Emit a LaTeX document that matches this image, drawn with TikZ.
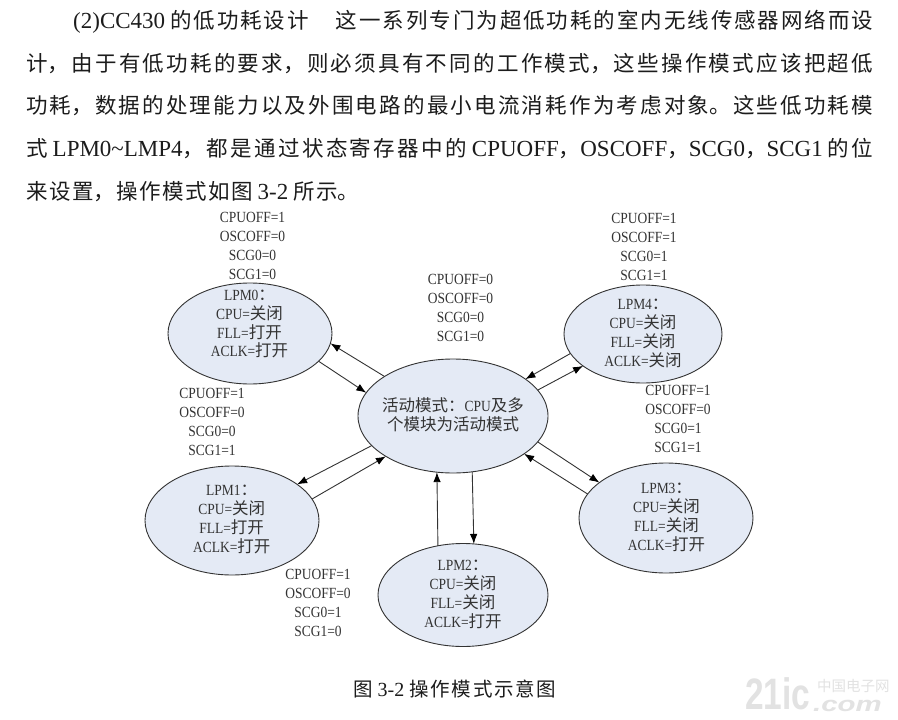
\documentclass[tikz,border=0pt]{standalone}
\usepackage{fontspec}
\usetikzlibrary{arrows.meta,shapes.geometric}
\setmainfont{Noto Sans CJK SC}
\newfontfamily\latf{Liberation Serif}
\newfontfamily\labf[FakeStretch=0.87]{Liberation Serif}
\newfontfamily\cjf{Noto Sans CJK SC}
\newfontfamily\wma[FakeStretch=0.76]{Liberation Sans}
\newfontfamily\wmb[FakeStretch=1.4]{Liberation Sans}
\definecolor{inkc}{HTML}{333333}
\definecolor{bodyc}{HTML}{1C1C1C}
\definecolor{fillc}{HTML}{E4EAF5}
\definecolor{wmc}{HTML}{E2E2E2}
\newcommand{\lat}[1]{{\latf\fontsize{23}{23}\selectfont #1}}
\newcommand{\capl}[1]{{\latf\fontsize{20}{20}\selectfont #1}}
\newcommand{\cj}[1]{{\cjf\fontsize{16.5}{18.9}\selectfont #1}}
\newcommand{\sep}{\hspace{5pt}}
\newcommand{\bodyline}[2]{\parbox[b]{#1pt}{\XeTeXlinebreaklocale "zh"\XeTeXlinebreakskip=0pt plus 6pt\relax\parindent=0pt\parfillskip=0pt\tolerance=9999\hbadness=10000\relax #2\par}}
\tikzset{
  state/.style={ellipse,draw=inkc,fill=fillc,line width=0.9pt,inner sep=0pt,outer sep=0pt},
  inner/.style={inkc,align=center,inner sep=0pt,font=\labf\fontsize{15.5}{18.9}\selectfont},
  flags/.style={inner},
  body/.style={bodyc,anchor=base west,inner sep=0pt,font=\fontsize{21.5}{24}\selectfont},
  conn/.style={draw=inkc,line width=0.9pt,-{Latex[length=10pt,width=7.5pt,color=black]}},
}
\begin{document}
\begin{tikzpicture}[x=1pt,y=-1pt]
\useasboundingbox[fill=white] (0,0) rectangle (898,720);
% body text
\node[body] (l1) at (73,28) {\bodyline{800}{\lat{(2)CC430}\sep 的低功耗设计\hspace{27pt}这一系列专门为超低功耗的室内无线传感器网络而设}};
\node[body] (l2) at (26,71) {\bodyline{847}{计，由于有低功耗的要求，则必须具有不同的工作模式，这些操作模式应该把超低}};
\node[body] (l3) at (26,113.5) {\bodyline{847}{功耗，数据的处理能力以及外围电路的最小电流消耗作为考虑对象。这些低功耗模}};
\node[body] (l4) at (26,156.5) {\bodyline{847}{式\sep\lat{LPM0\textasciitilde LMP4}，都是通过状态寄存器中的\sep\lat{CPUOFF}，\lat{OSCOFF}，\lat{SCG0}，\lat{SCG1}\sep 的位}};
\node[body] (l5) at (26,199) {\bodyline{333}{来设置，操作模式如图\sep\lat{3-2}\sep 所示。}};
% states
\node[state,minimum width=164pt,minimum height=101pt] (lpm0) at (250,333.5) {};
\node[state,minimum width=190pt,minimum height=114pt] (act) at (453,416) {};
\node[state,minimum width=158pt,minimum height=98pt] (lpm4) at (643,334) {};
\node[state,minimum width=174pt,minimum height=110pt] (lpm3) at (666,518) {};
\node[state,minimum width=170pt,minimum height=103pt] (lpm2) at (463,595) {};
\node[state,minimum width=174pt,minimum height=109pt] (lpm1) at (232,520.5) {};
% state texts
\node[inner] (t0) at (249.5,324) {LPM0\cj{：}\\CPU=\cj{关闭}\\FLL=\cj{打开}\\ACLK=\cj{打开}};
\node[inner] (t4) at (643,333.5) {LPM4\cj{：}\\CPU=\cj{关闭}\\FLL=\cj{关闭}\\ACLK=\cj{关闭}};
\node[inner] (t1) at (231.7,519.5) {LPM1\cj{：}\\CPU=\cj{关闭}\\FLL=\cj{打开}\\ACLK=\cj{打开}};
\node[inner] (t2) at (463,594.5) {LPM2\cj{：}\\CPU=\cj{关闭}\\FLL=\cj{关闭}\\ACLK=\cj{打开}};
\node[inner] (t3) at (666.5,517.5) {LPM3\cj{：}\\CPU=\cj{关闭}\\FLL=\cj{关闭}\\ACLK=\cj{打开}};
\node[inner] (ta) at (453,414.5) {\cj{活动模式：}CPU\cj{及多}\\\cj{个模块为活动模式}};
% flags
\node[flags] (f0) at (252.5,245.7) {CPUOFF=1\\OSCOFF=0\\SCG0=0\\SCG1=0};
\node[flags] (fa) at (460.5,307.7) {CPUOFF=0\\OSCOFF=0\\SCG0=0\\SCG1=0};
\node[flags] (f4) at (644,246.7) {CPUOFF=1\\OSCOFF=1\\SCG0=1\\SCG1=1};
\node[flags] (f1) at (212,421.7) {CPUOFF=1\\OSCOFF=0\\SCG0=0\\SCG1=1};
\node[flags] (f3) at (678,419) {CPUOFF=1\\OSCOFF=0\\SCG0=1\\SCG1=1};
\node[flags] (f2) at (318,602.7) {CPUOFF=1\\OSCOFF=0\\SCG0=1\\SCG1=0};
% connectors
\draw[conn] (act.150.2) -- (lpm0.-7.1);
\draw[conn] (lpm0.-22) -- (act.165.4);
\draw[conn] (lpm4.195.5) -- (act.27.5);
\draw[conn] (act.17) -- (lpm4.208.4);
\draw[conn] (act.-17.8) -- (lpm3.152.4);
\draw[conn] (lpm3.163) -- (act.-28.4);
\draw[conn] (act.200) -- (lpm1.29.3);
\draw[conn] (lpm1.15.2) -- (act.211);
\draw[conn] (lpm2.117.5) -- (act.254.3);
\draw[conn] (act.-71) -- (lpm2.78);
% caption
\node[bodyc,anchor=base west,inner sep=0pt,font=\fontsize{19.5}{22}\selectfont] (cap) at (353,696.5) {\bodyline{203}{图\sep\capl{3-2}\sep 操作模式示意图}};
% watermark
\node[wmc,anchor=base west,inner sep=0pt,font=\wma\bfseries\fontsize{44}{44}\selectfont] (wm1) at (745,709) {21ic};
\node[wmc,anchor=base west,inner sep=0pt,font=\fontsize{14.5}{14.5}\selectfont] (wm2) at (817,691) {中国电子网};
\node[wmc,anchor=base west,inner sep=0pt,font=\wmb\bfseries\itshape\fontsize{21}{21}\selectfont] (wm3) at (813,711) {.com};
\end{tikzpicture}
\end{document}
